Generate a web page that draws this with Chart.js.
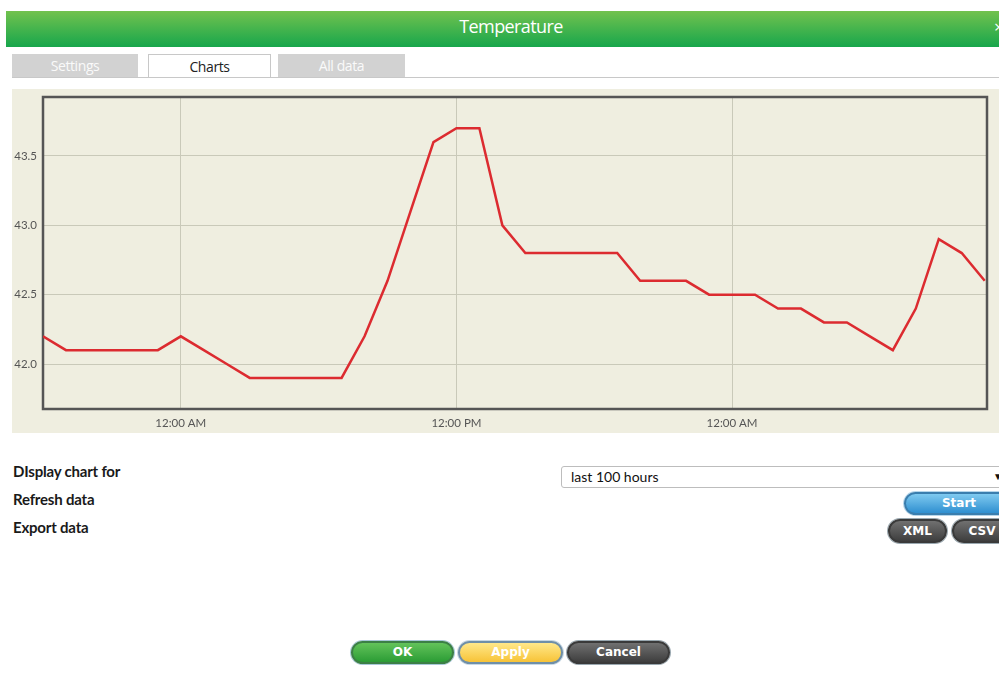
<!DOCTYPE html>
<html>
<head>
<meta charset="utf-8">
<script src="https://cdn.jsdelivr.net/npm/chart.js@4/dist/chart.umd.min.js"></script>
<style>
  html,body{margin:0;padding:0;background:#fff;width:999px;height:673px;overflow:hidden;font-family:Lato,"Open Sans",sans-serif;}
  .abs{position:absolute;}
  #header{left:6px;top:11px;width:1000px;height:36px;background:linear-gradient(#72c24e,#17a64c);color:#fff;font-size:18px;line-height:31px;text-align:center;font-family:"Open Sans",sans-serif;letter-spacing:-0.6px;}
  #header span.t{position:absolute;left:452px;width:106px;text-align:center;}
  #close{position:absolute;left:988px;top:0;font-size:17px;}
  .tab{top:54px;height:23px;line-height:23px;text-align:center;font-size:14px;font-family:"Open Sans",sans-serif;letter-spacing:-0.4px;box-sizing:border-box;}
  .tab.off{background:#d2d2d2;color:#fafafa;}
  .tab.on{background:#fff;border:1px solid #c8c8c8;border-bottom:none;color:#222;height:24px;}
  #tabline{left:12px;top:77px;width:990px;height:1px;background:#c8c8c8;}
  #chartbox{left:12px;top:89px;width:987px;height:344px;background:#efeee0;}
  .lbl{left:13px;font-weight:bold;font-size:15px;color:#1a1a1a;letter-spacing:-0.2px;}
  #sel{left:561px;top:466px;width:450px;height:22px;border:1px solid #bdbdbd;border-radius:3px;box-sizing:border-box;font-size:14px;line-height:20px;padding-left:9px;color:#111;}
  #arrow{left:993px;top:470px;font-size:10px;color:#111;}
  .btn{box-sizing:border-box;border-radius:13px;font-weight:bold;color:#fff;text-align:center;font-size:12px;font-family:Verdana,"DejaVu Sans",sans-serif;}
  #start{left:904px;top:492px;width:110px;height:23px;line-height:19px;background:linear-gradient(#7fcaf0,#2f8fd0);border:2px solid #3a7eae;box-shadow:0 0 0 1px #b7d6ea;}
  .dark{background:linear-gradient(#707070,#3e3e3e);border:2px solid #3a3a3a;box-shadow:0 0 0 1px #9aa8b0;}
  #xml{left:888px;top:519px;width:59px;height:24px;line-height:20px;}
  #csv{left:952px;top:519px;width:60px;height:24px;line-height:20px;}
  #ok{left:351px;top:641px;width:103px;height:23px;line-height:19px;background:linear-gradient(#63c35a,#2b9c35);border:2px solid #3c7f46;box-shadow:0 0 0 1px #a8c7d8;}
  #apply{left:458px;top:641px;width:105px;height:23px;line-height:19px;background:linear-gradient(#ffe88a,#f7c337);border:2px solid #6f8fa8;box-shadow:0 0 0 1px #c8d8e4;}
  #cancel{left:567px;top:641px;width:103px;height:23px;line-height:19px;}
</style>
</head>
<body>
<div id="header" class="abs"><span class="t">Temperature</span><span id="close">×</span></div>
<div class="abs tab off" style="left:12px;width:126px;">Settings</div>
<div class="abs tab on" style="left:148px;width:123px;">Charts</div>
<div class="abs tab off" style="left:278px;width:127px;">All data</div>
<div id="tabline" class="abs"></div>
<div id="chartbox" class="abs"><canvas id="c" width="987" height="344"></canvas></div>

<div class="abs lbl" style="top:462px;">DIsplay chart for</div>
<div class="abs lbl" style="top:490px;">Refresh data</div>
<div class="abs lbl" style="top:518px;">Export data</div>
<div id="sel" class="abs">last 100 hours</div>
<div id="arrow" class="abs">▼</div>
<div id="start" class="abs btn">Start</div>
<div id="xml" class="abs btn dark">XML</div>
<div id="csv" class="abs btn dark">CSV</div>
<div id="ok" class="abs btn">OK</div>
<div id="apply" class="abs btn">Apply</div>
<div id="cancel" class="abs btn dark">Cancel</div>

<script>
// hours elapsed since 6:00 PM of the first day
const hours = [0,1,2,3,4,5,6,7,8,9,10,11,12,13,14,15,16,17,18,19,20,21,22,23,24,25,26,27,28,29,30,31,32,33,34,35,36,37,38,39,40,41];
const temps = [42.2,42.1,42.1,42.1,42.1,42.1,42.2,42.1,42.0,41.9,41.9,41.9,41.9,41.9,42.2,42.6,43.1,43.6,43.7,43.7,43.0,42.8,42.8,42.8,42.8,42.8,42.6,42.6,42.6,42.5,42.5,42.5,42.4,42.4,42.3,42.3,42.2,42.1,42.4,42.9,42.8,42.6];
const xTickHours = [6,18,30];
const xTickLabels = ["12:00 AM","12:00 PM","12:00 AM"];
const yTicks = [42.0,42.5,43.0,43.5];

const points = hours.map((h,i)=>({x:h,y:temps[i]}));

const framePlugin = {
  id:'frame',
  beforeDatasetsDraw(chart){
    const a = chart.chartArea, ctx = chart.ctx;
    ctx.save();
    ctx.strokeStyle = '#555';
    ctx.lineWidth = 2.5;
    ctx.strokeRect(a.left, a.top, a.right-a.left, a.bottom-a.top);
    ctx.restore();
  }
};

new Chart(document.getElementById('c'), {
  type:'line',
  data:{datasets:[{data:points,borderColor:'#dc2b30',borderWidth:2.5,pointRadius:0,tension:0,fill:false}]},
  options:{
    responsive:false,animation:false,
    layout:{padding:{top:8,right:12,left:0,bottom:0}},
    plugins:{legend:{display:false},tooltip:{enabled:false}},
    scales:{
      x:{type:'linear',min:0,max:41.1,
        afterBuildTicks(s){s.ticks = xTickHours.map(v=>({value:v}));},
        afterFit(s){s.height = 24; s.paddingLeft = 0; s.paddingRight = 0;},
        grid:{color:'#c9c9b9',lineWidth:1,drawTicks:false},
        border:{display:false},
        ticks:{padding:7,color:'#555',font:{family:'Lato',size:11.5},maxRotation:0,autoSkip:false,
          callback:(v,i)=>xTickLabels[i]}
      },
      y:{type:'linear',min:41.676,max:43.925,
        afterBuildTicks(s){s.ticks = yTicks.map(v=>({value:v}));},
        afterFit(s){s.width = 31; s.paddingTop = 0; s.paddingBottom = 0;},
        grid:{color:'#c9c9b9',lineWidth:1,drawTicks:false},
        border:{display:false},
        ticks:{padding:6,color:'#555',font:{family:'Lato',size:11.5},callback:v=>v.toFixed(1)}
      }
    }
  },
  plugins:[framePlugin]
});
</script>
</body>
</html>
